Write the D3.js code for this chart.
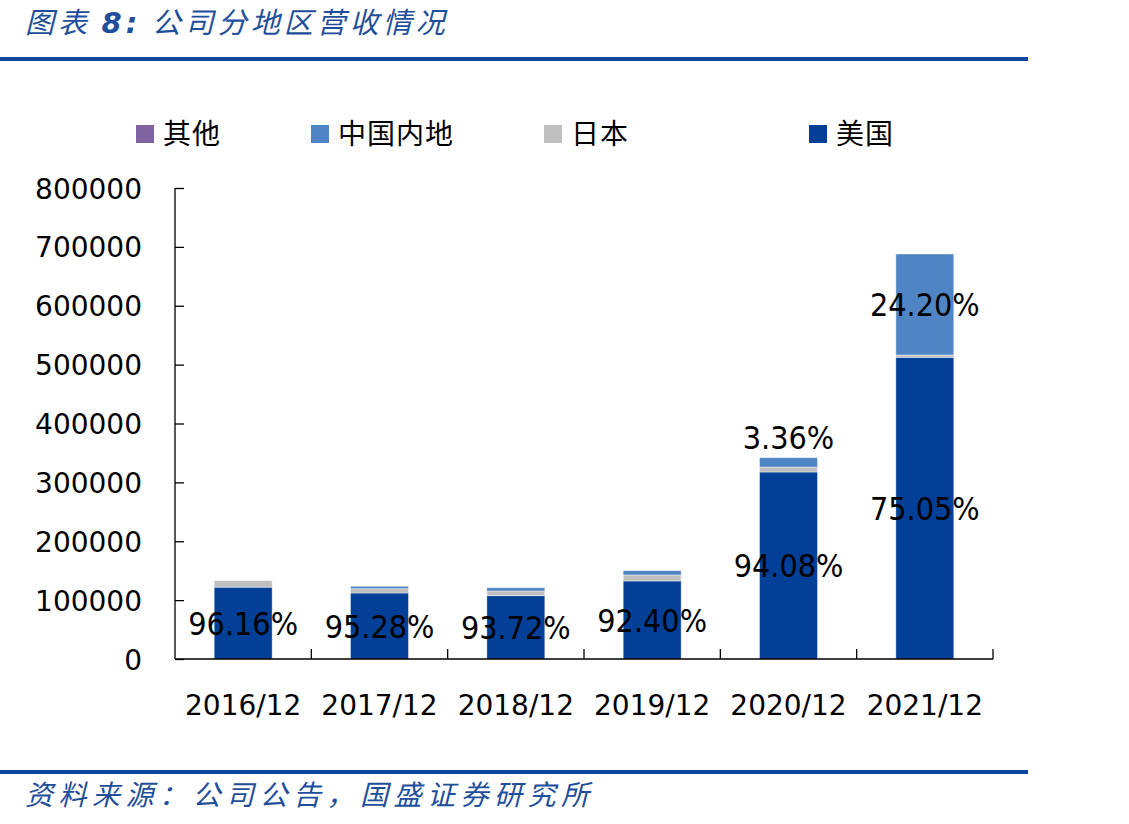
<!DOCTYPE html>
<html>
<head>
<meta charset="utf-8">
<script src="https://cdn.jsdelivr.net/npm/d3@7/dist/d3.min.js"></script>
<style>
  body { margin: 0; background: #fff; }
  svg { display: block; }
  .cjk { font-family: "Noto Sans CJK SC", sans-serif; }
  .num { font-family: "DejaVu Sans", sans-serif; }
  .pct { font-family: "DejaVu Sans Condensed", "DejaVu Sans", sans-serif; font-stretch: condensed; }
</style>
</head>
<body>
<script>
// categories and series (revenue)
var years = ["2016/12", "2017/12", "2018/12", "2019/12", "2020/12", "2021/12"];
var usRev = [122000, 112100, 107500, 132500, 317600, 512400];
var japanRev = [11000, 7300, 8000, 10200, 8500, 4000];
var chinaRev = [0, 4100, 5600, 7300, 15800, 171500];
var otherRev = [0, 0, 0, 0, 0, 0];
var usPct = ["96.16%", "95.28%", "93.72%", "92.40%", "94.08%", "75.05%"];
var chinaPct = ["", "", "", "", "3.36%", "24.20%"];
var yTicks = [0, 100000, 200000, 300000, 400000, 500000, 600000, 700000, 800000];

var seriesKeys = ["us", "japan", "china", "other"];
var seriesNames = {us: "美国", japan: "日本", china: "中国内地", other: "其他"};
var legendOrder = ["other", "china", "japan", "us"];
var legendX = [136, 311, 544, 809]; // legend entry positions

var width = 1129,
    height = 824,
    plotLeft = 175, plotRight = 993,
    plotTop = 188, plotBottom = 659; // plot area

var color = d3.scaleOrdinal()
    .domain(seriesKeys)
    .range(["#023f97", "#bfbfbf", "#5085c5", "#8064a2"]);

var table = years.map(function (d, i) {
    return {year: d, us: usRev[i], japan: japanRev[i], china: chinaRev[i], other: otherRev[i]};
});

var stacked = d3.stack().keys(seriesKeys)(table);

var x = d3.scaleBand()
    .domain(years)
    .range([plotLeft, plotRight])
    .paddingInner(0.575)
    .paddingOuter(0.2875); // keeps step = range / n

var y = d3.scaleLinear()
    .domain([0, 800000])
    .range([plotBottom, plotTop]);

var svg = d3.select("body").append("svg")
    .attr("width", width)
    .attr("height", height);

// title + rule
svg.append("text")
    .attr("class", "cjk")
    .attr("x", 25)
    .attr("y", 33)
    .attr("fill", "#1f4e9a")
    .style("font-size", "29px")
    .style("font-style", "italic")
    .style("letter-spacing", "4px")
    .text("图表 ")
    .append("tspan")
    .style("font-weight", "bold")
    .style("font-family", "'DejaVu Sans', sans-serif")
    .text("8:")
    .append("tspan")
    .style("font-weight", "normal")
    .style("font-family", "'Noto Sans CJK SC', sans-serif")
    .text(" 公司分地区营收情况");

svg.append("rect")
    .attr("x", 0).attr("y", 57)
    .attr("width", 1028).attr("height", 4)
    .attr("fill", "#0c479d");

// source + rule
svg.append("rect")
    .attr("x", 0).attr("y", 770)
    .attr("width", 1028).attr("height", 4)
    .attr("fill", "#0c479d");

svg.append("text")
    .attr("class", "cjk")
    .attr("x", 25)
    .attr("y", 805)
    .attr("fill", "#1f4e9a")
    .style("font-size", "28px")
    .style("font-style", "italic")
    .style("letter-spacing", "5.5px")
    .text("资料来源：公司公告，国盛证券研究所");

// legend
var legend = svg.selectAll(".legend")
    .data(legendOrder)
    .enter().append("g")
    .attr("class", "legend")
    .attr("transform", function (d, i) {
        return "translate(" + legendX[i] + ",125)";
    });

legend.append("rect")
    .attr("width", 18)
    .attr("height", 18)
    .attr("fill", function (d) { return color(d); });

legend.append("text")
    .attr("class", "cjk")
    .attr("x", 27)
    .attr("y", 19)
    .style("font-size", "28px")
    .style("letter-spacing", "1px")
    .attr("fill", "#000")
    .text(function (d) { return seriesNames[d]; });

// bars
var layer = svg.selectAll(".layer")
    .data(stacked)
    .enter().append("g")
    .attr("class", "layer")
    .attr("fill", function (d) { return color(d.key); });

layer.selectAll("rect")
    .data(function (d) { return d; })
    .enter().append("rect")
    .attr("x", function (d) { return x(d.data.year); })
    .attr("width", x.bandwidth())
    .attr("y", function (d) { return y(d[1]); })
    .attr("height", function (d) { return y(d[0]) - y(d[1]); })
    .attr("stroke", "#fff")
    .attr("stroke-opacity", 0.5)
    .attr("stroke-width", 0.8);

// axes
var yAxis = d3.axisRight(y)
    .tickValues(yTicks)
    .tickSize(9)
    .tickFormat(function (d) { return d; });

var gy = svg.append("g")
    .attr("transform", "translate(" + plotLeft + ",0)")
    .call(yAxis);
gy.select(".domain").attr("stroke", "#000").attr("stroke-width", 1.3).attr("d", "M0," + plotTop + "V" + plotBottom);
gy.selectAll(".tick line").attr("stroke", "#000").attr("stroke-width", 1.3);
gy.selectAll(".tick text")
    .attr("class", "num")
    .attr("x", -33)
    .attr("dy", "0.36em")
    .attr("text-anchor", "end")
    .attr("fill", "#000")
    .style("font-size", "28px");

svg.append("line")
    .attr("x1", plotLeft).attr("x2", plotRight)
    .attr("y1", plotBottom).attr("y2", plotBottom)
    .attr("stroke", "#000").attr("stroke-width", 1.3);

// category boundary ticks, pointing up
svg.selectAll(".xtick")
    .data(years)
    .enter().append("line")
    .attr("class", "xtick")
    .attr("x1", function (d) { return x(d) - x.step() * x.paddingOuter() + x.step(); })
    .attr("x2", function (d) { return x(d) - x.step() * x.paddingOuter() + x.step(); })
    .attr("y1", plotBottom)
    .attr("y2", plotBottom - 10)
    .attr("stroke", "#000").attr("stroke-width", 1.3);

svg.selectAll(".xlabel")
    .data(years)
    .enter().append("text")
    .attr("class", "xlabel num")
    .attr("x", function (d) { return x(d) + x.bandwidth() / 2; })
    .attr("y", 715)
    .attr("text-anchor", "middle")
    .style("font-size", "28px")
    .text(function (d) { return d; });

// percentage labels
svg.selectAll(".uslabel")
    .data(stacked[0])
    .enter().append("text")
    .attr("class", "uslabel pct")
    .attr("x", function (d) { return x(d.data.year) + x.bandwidth() / 2; })
    .attr("y", function (d) { return (y(d[0]) + y(d[1])) / 2; })
    .attr("dy", "0.36em")
    .attr("text-anchor", "middle")
    .style("font-size", "32px")
    .text(function (d, i) { return usPct[i]; });

svg.selectAll(".cnlabel")
    .data(stacked[2])
    .enter().append("text")
    .attr("class", "cnlabel pct")
    .attr("x", function (d) { return x(d.data.year) + x.bandwidth() / 2; })
    .attr("y", function (d) {
        // small segment: label sits above the bar
        return y(d[0]) - y(d[1]) < 40 ? y(d[1]) - 20 : (y(d[0]) + y(d[1])) / 2;
    })
    .attr("dy", "0.36em")
    .attr("text-anchor", "middle")
    .style("font-size", "32px")
    .text(function (d, i) { return chinaPct[i]; });
</script>
</body>
</html>
